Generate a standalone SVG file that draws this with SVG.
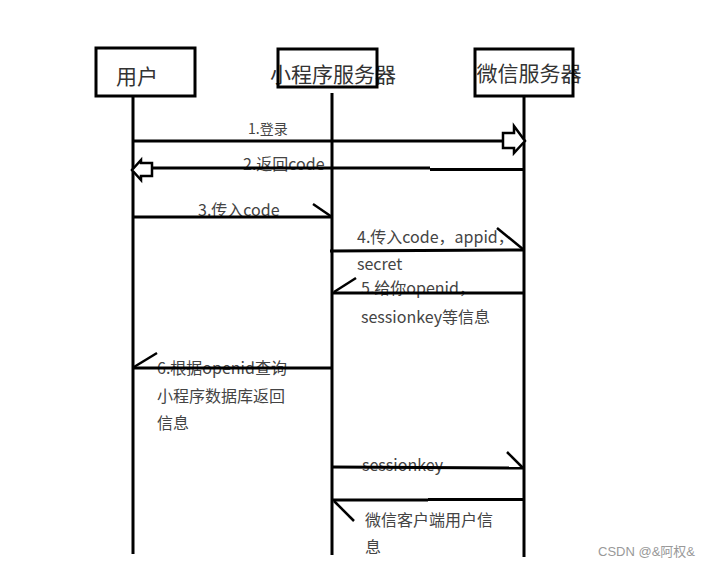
<svg xmlns="http://www.w3.org/2000/svg" width="713" height="568" viewBox="0 0 713 568">
<style>
.box{fill:none;stroke:#000;stroke-width:3}
.life{stroke:#000;stroke-width:3;fill:none}
.msg{stroke:#000;stroke-width:3;fill:none}
.tick{stroke:#000;stroke-width:2.5;fill:none}
.hollow{stroke:#000;stroke-width:2.5;fill:#fff;stroke-linejoin:miter}
.title{font-family:"Noto Sans CJK SC","Microsoft YaHei",sans-serif;font-size:21px;fill:#333;dominant-baseline:central}
.lbl{font-family:"Noto Sans CJK SC","Microsoft YaHei",sans-serif;font-size:16px;fill:#444;dominant-baseline:central}
.wm{font-family:"Liberation Sans","Noto Sans CJK SC",sans-serif;font-size:13px;fill:#999;dominant-baseline:central}
</style>
<rect width="713" height="568" fill="#fff"/>
<g id="node-user">
<text class="title" x="137" y="75" text-anchor="middle">用户</text>
<rect class="box" x="96" y="48" width="99" height="48"/>
<line class="life" x1="133" y1="96" x2="133" y2="554"/>
</g>
<g id="node-miniserver">
<text class="title" x="333" y="73" text-anchor="middle">小程序服务器</text>
<rect class="box" x="278" y="49" width="99" height="38"/>
<line class="life" x1="332" y1="93" x2="332" y2="555"/>
</g>
<g id="node-wxserver">
<text class="title" x="529" y="72" text-anchor="middle">微信服务器</text>
<rect class="box" x="475" y="49" width="98" height="47"/>
<line class="life" x1="524" y1="96" x2="524" y2="557"/>
</g>
<g id="labels">
<text class="lbl" x="248" y="128" style="font-size:14px">1.登录</text>
<text class="lbl" x="243" y="163">2.返回code</text>
<text class="lbl" x="198" y="209">3.传入code</text>
<text class="lbl" x="357" y="236">4.传入code，appid，</text>
<text class="lbl" x="357" y="263">secret</text>
<text class="lbl" x="361" y="287">5.给你openid，</text>
<text class="lbl" x="361" y="316">sessionkey等信息</text>
<text class="lbl" x="157" y="367">6.根据openid查询</text>
<text class="lbl" x="157" y="395">小程序数据库返回</text>
<text class="lbl" x="157" y="422">信息</text>
<text class="lbl" x="362" y="464">sessionkey</text>
<text class="lbl" x="365" y="519">微信客户端用户信</text>
<text class="lbl" x="365" y="546">息</text>
</g>
<g id="connectors">
<line class="msg" x1="133" y1="141" x2="505" y2="141"/>
<path class="hollow" d="M503,133 L514,133 L514,126 L525,141 L514,153 L514,148 L503,148 Z"/>
<line class="msg" x1="150" y1="168" x2="430" y2="168"/>
<line class="msg" x1="430" y1="169.5" x2="524" y2="169.5"/>
<path class="hollow" d="M152,163 L141,163 L141,160 L132,170 L141,180 L141,176 L152,176 Z"/>
<line class="msg" x1="133" y1="217" x2="332" y2="217"/>
<line class="tick" x1="313" y1="204" x2="332" y2="217"/>
<line class="msg" x1="330" y1="251" x2="524" y2="250"/>
<line class="tick" x1="497" y1="228" x2="524" y2="250"/>
<line class="msg" x1="332" y1="293" x2="524" y2="293"/>
<line class="tick" x1="356" y1="278" x2="334" y2="292"/>
<line class="msg" x1="133" y1="368" x2="332" y2="368"/>
<line class="tick" x1="157" y1="353" x2="134" y2="367"/>
<line class="msg" x1="332" y1="467" x2="524" y2="468"/>
<line class="tick" x1="507" y1="452" x2="523" y2="468"/>
<line class="msg" x1="332" y1="500" x2="428" y2="500"/>
<line class="msg" x1="428" y1="499.5" x2="524" y2="499.5"/>
<line class="tick" x1="334" y1="501" x2="354" y2="521"/>
</g>
<text class="wm" x="598" y="551">CSDN @&amp;阿权&amp;</text>
</svg>
